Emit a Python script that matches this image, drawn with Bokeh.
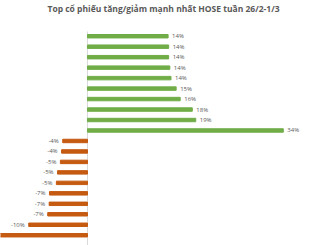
from bokeh.plotting import figure
from bokeh.models import Range1d, ColumnDataSource, Label
from bokeh.core.properties import value
from bokeh.embed import file_html
from bokeh.resources import INLINE

# Data (top to bottom)
gain_values = [14.0, 14.1, 14.1, 14.3, 14.5, 15.4, 16.1, 18.2, 18.8, 34.0]
loss_values = [-4.3, -4.5, -4.7, -5.2, -5.4, -6.6, -6.65, -6.9, -10.2, -16.0]
title_text = "Top cổ phiếu tăng/giảm mạnh nhất HOSE tuần 26/2-1/3"

GREEN = "#70AD47"
ORANGE = "#C55A11"
GRAY = "#595959"

# layout (in category-row units; one row is ~10.5 px)
X_MIN, X_MAX = -15.1, 41.5
Y_TOP, Y_BOTTOM = -2.41, 20.98     # canvas top / bottom
AXIS_TOP = 0.55                     # where the vertical axis line starts
TITLE_Y = -1.68                     # title baseline

values = gain_values + loss_values
pos = list(range(1, len(values) + 1))
colors = [GREEN] * len(gain_values) + [ORANGE] * len(loss_values)
labels = [f"{round(v)}%" for v in values]

src = ColumnDataSource(dict(y=pos, v=values, c=colors))
src_pos = ColumnDataSource(dict(y=pos[:len(gain_values)], v=gain_values,
                                lab=labels[:len(gain_values)]))
# the reference's longest loss bar runs past the plot's left edge; its label is not shown
neg = [(y, v, l) for y, v, l in zip(pos[len(gain_values):], loss_values,
                                     labels[len(gain_values):]) if v > X_MIN]
src_neg = ColumnDataSource(dict(y=[n[0] for n in neg], v=[n[1] for n in neg],
                                lab=[n[2] for n in neg]))

p = figure(width=326, height=245, output_backend="svg", toolbar_location=None,
           x_range=Range1d(X_MIN, X_MAX), y_range=Range1d(Y_BOTTOM, Y_TOP),
           min_border=0)

p.xaxis.visible = False
p.yaxis.visible = False
p.grid.visible = False
p.outline_line_color = None
p.background_fill_color = "white"
p.border_fill_color = "white"

# vertical category axis line at zero
p.segment(x0=[0], y0=[AXIS_TOP], x1=[0], y1=[Y_BOTTOM], line_color="#D9D9D9", line_width=1)

p.hbar(y="y", left=0, right="v", height=0.33, color="c", source=src)

p.text(x="v", y="y", text="lab", source=src_pos, x_offset=4, text_align="left",
       text_baseline="middle", text_font=value("Open Sans"), text_font_size="6px",
       text_color=GRAY)
p.text(x="v", y="y", text="lab", source=src_neg, x_offset=-4, text_align="right",
       text_baseline="middle", text_font=value("Open Sans"), text_font_size="6px",
       text_color=GRAY)

p.add_layout(Label(x=(X_MIN + X_MAX) / 2, y=TITLE_Y, text=title_text,
                   text_align="center", text_baseline="alphabetic",
                   text_font="Open Sans", text_font_size="8.5px",
                   text_font_style="bold", text_color=GRAY))

open("out.html", "w").write(file_html(p, INLINE))
